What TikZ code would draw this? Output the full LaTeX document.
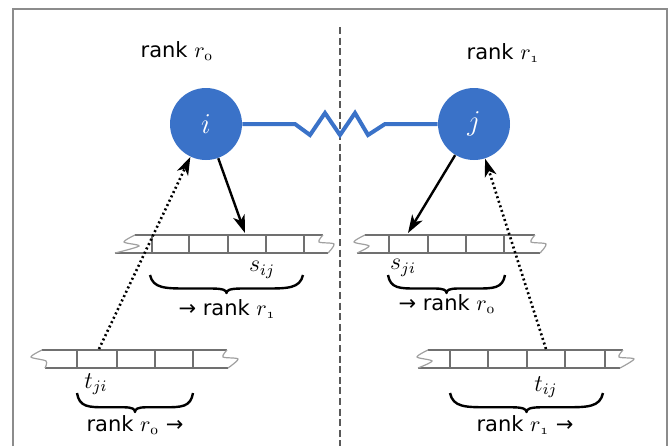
\documentclass[tikz,border=0pt]{standalone}
\usepackage{amsmath}
\usepackage{fontspec}
\setmainfont{DejaVu Sans}
\usetikzlibrary{arrows.meta}
\definecolor{atomblue}{RGB}{58,114,200}
\definecolor{tapegray}{RGB}{112,112,112}
\definecolor{teargray}{RGB}{160,160,160}

% tape: y, top left, top right, bottom left, bottom right, cell borders
\newcommand{\tape}[6]{%
  \draw[tapeline] (#2,#1) -- (#3,#1);
  \draw[tapeline] (#4,#1+18) -- (#5,#1+18);
  \foreach \d in {#6} \draw[tapeline] (\d,#1) -- (\d,#1+18);
  \draw[tear] plot[smooth] coordinates {(#2,#1) (#2-11,#1+7) (#2+4,#1+11) (#4,#1+18)};
  \draw[tear] plot[smooth] coordinates {(#3,#1) (#3-4,#1+7) (#3+11,#1+9) (#5,#1+18)};
}
% curly brace: x1, x2, y, height
\newcommand{\curly}[4]{%
  \pgfmathsetmacro{\bm}{(#1+#2)/2}
  \pgfmathsetmacro{\bw}{#2-#1}
  \draw[bracestyle] (#1,#3) .. controls (#1+0.02*\bw,#3+0.75*#4) and (#1+0.1*\bw,#3+0.75*#4) .. (#1+0.25*\bw,#3+0.75*#4)
    -- (\bm-0.1*\bw,#3+0.75*#4) .. controls (\bm-0.02*\bw,#3+0.75*#4) and (\bm,#3+0.85*#4) .. (\bm,#3+#4)
    .. controls (\bm,#3+0.85*#4) and (\bm+0.02*\bw,#3+0.75*#4) .. (\bm+0.1*\bw,#3+0.75*#4)
    -- (#2-0.25*\bw,#3+0.75*#4) .. controls (#2-0.1*\bw,#3+0.75*#4) and (#2-0.02*\bw,#3+0.75*#4) .. (#2,#3);
}

\begin{document}
\begin{tikzpicture}[x=0.5pt,y=-0.5pt,
    font=\fontsize{10.5}{12.6}\selectfont,
    atom/.style={circle,fill=atomblue,minimum size=36pt,inner sep=0pt,text=white,font=\fontsize{14}{16}\selectfont},
    buflabel/.style={font=\fontsize{12}{14}\selectfont},
    tapeline/.style={draw=tapegray,line width=1.4pt},
    tear/.style={draw=teargray,line width=0.6pt},
    bracestyle/.style={line width=1.2pt,line join=round},
    spring/.style={draw=atomblue,line width=2pt},
    send/.style={line width=1.2pt,-{Stealth[length=9pt,width=6pt,inset=2.5pt]}},
    recv/.style={line width=1.3pt,dash pattern=on 1pt off 1.4pt,-{Stealth[length=9pt,width=6pt,inset=2.5pt]}},
    divider/.style={draw=black!65,line width=0.9pt,dash pattern=on 3.5pt off 1.8pt},
    frame/.style={draw=black!45,line width=0.6pt}]
    \useasboundingbox (0,0) rectangle (669,446);
    \draw[frame] (13,446) -- (13,9) -- (667,9) -- (667,446);
    \draw[divider] (340,27) -- (340,446);
    % atoms
    \node[atom](i)at (206,124){$i$};
    \node[atom](j)at (474,124){$j$};
    \draw[spring] (i.east) -- (295,124) -- (310,135) -- (325,113) -- (340,135) -- (355,113) -- (368,135) -- (385,124) -- (j.west);
    \node(rank0)at (177,51){rank $r_{\mathnormal{0}}$};
    \node(rank1)at (503,53){rank $r_{\mathnormal{1}}$};
    % buffers
    \tape{235}{135}{323}{115}{328}{152,189,228,266,304}
    \tape{235}{365}{535}{357}{540}{389,428,466,504}
    \tape{350}{42}{227}{45}{228}{77,117,155,193}
    \tape{350}{428}{623}{418}{620}{450,488,527,565,605}
    \curly{150}{303}{275}{18}
    \curly{388}{505}{275}{18}
    \curly{77}{193}{393}{19}
    \curly{450}{603}{393}{19}
    \node[buflabel](sij)at (262,270){$s_{ij}$};
    \node[buflabel](sji)at (403,268){$s_{ji}$};
    \node[buflabel](tji)at (96,384){$t_{ji}$};
    \node[buflabel](tij)at (546,387){$t_{ij}$};
    \node(sendA)at (227,309){→ rank $r_{\mathnormal{1}}$};
    \node(sendB)at (447,304){→ rank $r_{\mathnormal{0}}$};
    \node(recvA)at (135,425){rank $r_{\mathnormal{0}}$ →};
    \node(recvB)at (525,425){rank $r_{\mathnormal{1}}$ →};
    % arrows
    \coordinate(sij-in)at (245,233);
    \coordinate(sji-in)at (408,233);
    \coordinate(tji-out)at (99,349);
    \coordinate(tij-out)at (546,349);
    \draw[send](i)--(sij-in);
    \draw[send](j)--(sji-in);
    \draw[recv](tji-out)--(i);
    \draw[recv](tij-out)--(j);
\end{tikzpicture}
\end{document}
